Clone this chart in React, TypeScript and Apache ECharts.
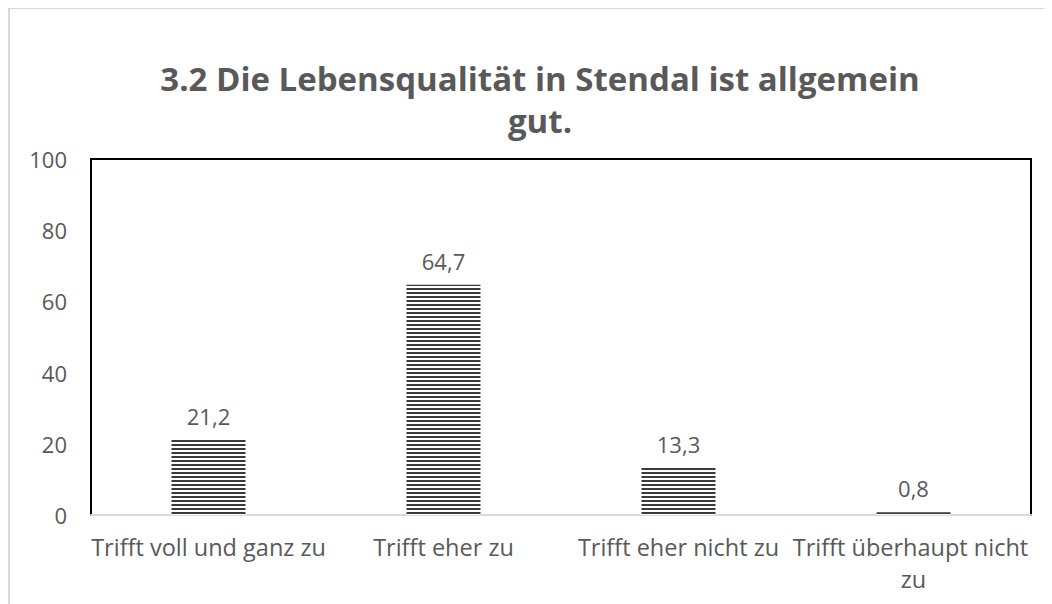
import React, { useEffect, useRef } from "react";
import * as echarts from "echarts";

const titleLines = ["3.2 Die Lebensqualität in Stendal ist allgemein", "gut."];
const categories = ["Trifft voll und ganz zu", "Trifft eher zu", "Trifft eher nicht zu", "Trifft überhaupt nicht zu"];
const values = [21.2, 64.7, 13.3, 0.8];
const yTicks = { min: 0, max: 100, interval: 20 };

export default function App() {
  const ref = useRef<HTMLDivElement>(null);
  useEffect(() => {
    if (!ref.current) return;
    const chart = echarts.init(ref.current, null, { renderer: "svg" });
    const font = "'Open Sans', sans-serif";
    const titleStyle = { fontFamily: font, fontSize: 33, fontWeight: "bold", color: "#595959", lineHeight: 36 };
    chart.setOption({
      animation: false,
      backgroundColor: "#ffffff",
      title: titleLines.map((t, i) => ({
        text: t,
        left: 527,
        textAlign: "center",
        top: 47 + i * 42,
        padding: 5,
        textStyle: titleStyle,
      })),
      graphic: [
        { type: "line", shape: { x1: 1, y1: 0, x2: 1, y2: 596 }, style: { stroke: "#d9d9d9", lineWidth: 2 } },
        { type: "line", shape: { x1: 0, y1: 0, x2: 1044, y2: 0 }, style: { stroke: "#d9d9d9", lineWidth: 2 } },
      ],
      grid: { left: 83, right: 21, top: 151, bottom: 89, show: true, borderColor: "#000000", borderWidth: 2, backgroundColor: "transparent" },
      xAxis: {
        type: "category",
        data: categories,
        axisLine: { lineStyle: { color: "#d9d9d9", width: 2 } },
        axisTick: { show: false },
        axisLabel: { fontFamily: font, fontSize: 23.5, color: "#595959", margin: 16, width: 252, overflow: "break", lineHeight: 32, interval: 0 },
      },
      yAxis: {
        type: "value",
        min: yTicks.min,
        max: yTicks.max,
        interval: yTicks.interval,
        splitLine: { show: false },
        axisLine: { show: false },
        axisTick: { show: false },
        axisLabel: { fontFamily: font, fontSize: 22, color: "#595959", margin: 24 },
      },
      series: [
        {
          type: "bar",
          data: values,
          barWidth: 74,
          itemStyle: {
            color: "#ffffff",
            decal: { symbol: "rect", symbolSize: 1, dashArrayX: [1, 0], dashArrayY: [2, 1.5], rotation: 0, color: "#3a3a3a" },
          },
          label: {
            show: true,
            position: "top",
            distance: 13,
            fontFamily: font,
            fontSize: 22,
            color: "#595959",
            formatter: (p: any) => String(p.value).replace(".", ","),
          },
        },
      ],
    });
    return () => chart.dispose();
  }, []);
  return <div ref={ref} style={{ width: 1044, height: 596 }} />;
}
